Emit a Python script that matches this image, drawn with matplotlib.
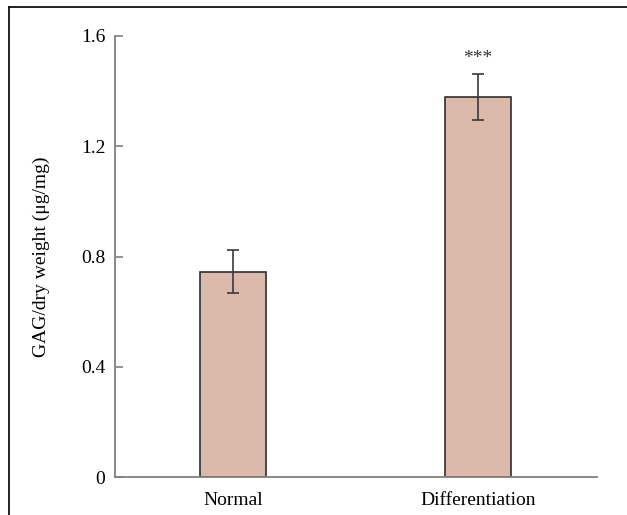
import numpy as np
import matplotlib.pyplot as plt
from matplotlib.lines import Line2D

# data
groups = ['Normal', 'Differentiation']
gag = [0.744, 1.379]
err = [0.078, 0.083]
stars = ['', '***']
yticks = [0, 0.4, 0.8, 1.2, 1.6]
ytick_labels = ['0', '0.4', '0.8', '1.2', '1.6']

plt.rcParams['font.family'] = ['Liberation Serif', 'DejaVu Serif']

W, H = 627, 515
fig = plt.figure(figsize=(W / 100, H / 100), dpi=100)
# axes box in pixels: x 115..597, y 36..477
ax = fig.add_axes([115 / W, 1 - 477 / H, (597 - 115) / W, (477 - 36) / H])

x = np.arange(len(groups))
ax.bar(x, gag, width=0.27, color='#dbb9ab', edgecolor='#2f2f2f', linewidth=1.2, zorder=2)
ax.errorbar(x, gag, yerr=err, fmt='none', ecolor='#3a3a3a', elinewidth=1.2,
            capsize=4, capthick=1.2, zorder=3)
for xi, v, e, s in zip(x, gag, err, stars):
    if s:
        ax.text(xi, v + e + 0.055, s, ha='center', va='center', fontsize=14, color='#333333')

ax.set_xlim(-0.482, 1.486)
ax.set_ylim(0, 1.6)
ax.set_xticks(x)
ax.set_xticklabels(groups)
ax.set_yticks(yticks)
ax.set_yticklabels(ytick_labels)
ax.tick_params(axis='y', direction='in', length=6, width=1.2, color='#808080',
               labelsize=14, pad=7)
ax.tick_params(axis='x', length=0, labelsize=14, pad=10.5)
ax.set_ylabel('GAG/dry weight (μg/mg)', fontsize=14, labelpad=22)
for side in ['top', 'right']:
    ax.spines[side].set_visible(False)
for side in ['left', 'bottom']:
    ax.spines[side].set_color('#808080')
    ax.spines[side].set_linewidth(1.3)

# outer frame (left and top edges visible)
fig.add_artist(Line2D([9 / W, 9 / W], [0, 1 - 7 / H], transform=fig.transFigure,
                      color='#111111', linewidth=1.3))
fig.add_artist(Line2D([9 / W, 1], [1 - 7 / H, 1 - 7 / H], transform=fig.transFigure,
                      color='#111111', linewidth=1.3))

fig.savefig('out.png', dpi=100)
